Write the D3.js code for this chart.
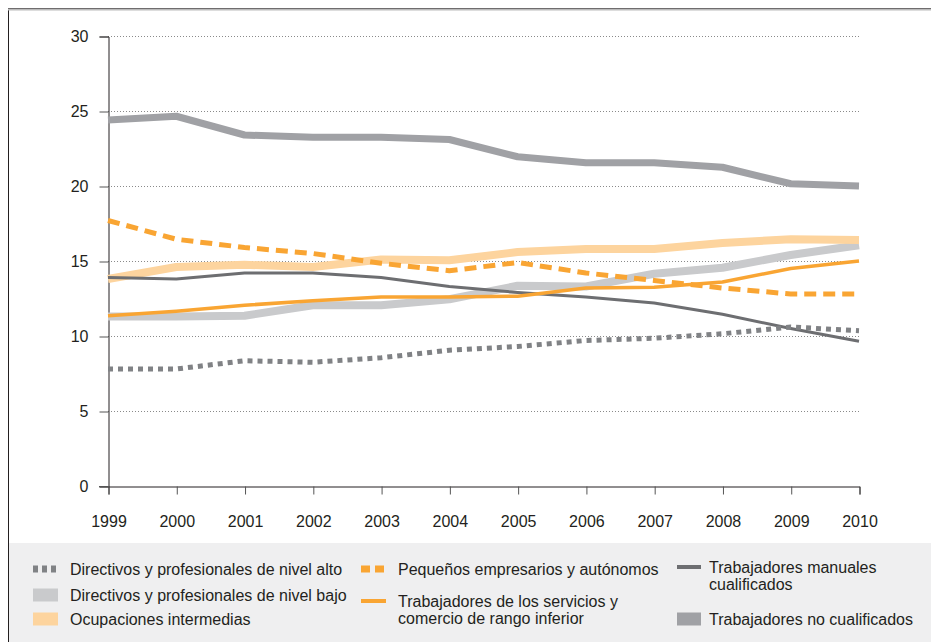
<!DOCTYPE html>
<html>
<head>
<meta charset="utf-8">
<script src="https://cdn.jsdelivr.net/npm/d3@7"></script>
<style>
  body { margin: 0; background: #fff; }
  svg text { font-family: "Liberation Sans", Arial, sans-serif; fill: #231f20; }
</style>
</head>
<body>
<div id="chart"></div>
<script>
// data
var years = [1999, 2000, 2001, 2002, 2003, 2004, 2005, 2006, 2007, 2008, 2009, 2010];
var yTicks = [0, 5, 10, 15, 20, 25, 30];

var dirAlto     = [7.8, 7.8, 8.35, 8.25, 8.55, 9.05, 9.3, 9.7, 9.85, 10.15, 10.6, 10.35];
var dirBajo     = [11.3, 11.3, 11.35, 12.05, 12.05, 12.45, 13.35, 13.3, 14.15, 14.55, 15.4, 16.05];
var intermedias = [13.8, 14.6, 14.75, 14.6, 15.1, 15.05, 15.6, 15.8, 15.8, 16.2, 16.45, 16.4];
var pequenos    = [17.7, 16.45, 15.9, 15.5, 14.85, 14.35, 14.9, 14.2, 13.7, 13.2, 12.8, 12.8];
var servicios   = [11.35, 11.65, 12.05, 12.35, 12.6, 12.6, 12.65, 13.2, 13.25, 13.6, 14.5, 15.0];
var manuales    = [13.9, 13.8, 14.2, 14.2, 13.9, 13.3, 12.9, 12.6, 12.2, 11.45, 10.5, 9.65];
var noCualif    = [24.4, 24.65, 23.4, 23.25, 23.25, 23.1, 21.95, 21.55, 21.55, 21.25, 20.15, 20.0];

var W = 931, H = 642;
var svg = d3.select('#chart').append('svg')
  .attr('width', W)
  .attr('height', H);

// outer frame + legend background
svg.append('rect')
  .attr('x', 8.5).attr('y', 8.5)
  .attr('width', W).attr('height', H)
  .attr('fill', '#fff')
  .attr('stroke', '#231f20')
  .attr('stroke-width', 1);
svg.append('line')
  .attr('x1', 8).attr('x2', W)
  .attr('y1', 9.5).attr('y2', 9.5)
  .attr('stroke', '#bbb').attr('stroke-width', 2);
svg.append('rect')
  .attr('x', 9).attr('y', 543)
  .attr('width', W).attr('height', H - 543)
  .attr('fill', '#efeff0');

var x = d3.scaleLinear().domain([1999, 2010]).range([108, 859]);
var y = d3.scaleLinear().domain([0, 30]).range([486, 36]);

// dotted gridlines
svg.append('g').selectAll('line')
  .data(yTicks.filter(function(d) { return d > 0; }))
  .enter().append('line')
  .attr('x1', 108).attr('x2', 859)
  .attr('y1', function(d) { return y(d) + 0.5; })
  .attr('y2', function(d) { return y(d) + 0.5; })
  .attr('stroke', '#8a8a8a')
  .attr('stroke-width', 1)
  .attr('stroke-dasharray', '1,2');

// axes
var yAxis = svg.append('g')
  .attr('transform', 'translate(108.5,0.5)')
  .call(d3.axisLeft(y).tickValues(yTicks).tickSize(9).tickPadding(11));
var xAxis = svg.append('g')
  .attr('transform', 'translate(0.5,486.5)')
  .call(d3.axisBottom(x).tickValues(years).tickFormat(d3.format('d')).tickSize(8).tickPadding(21));
[yAxis, xAxis].forEach(function(g) {
  g.select('.domain').attr('stroke', '#231f20');
  g.selectAll('.tick line').attr('stroke', '#555');
  g.selectAll('.tick text').attr('font-size', 16).attr('fill', '#231f20');
});
svg.append('line')
  .attr('x1', 99).attr('x2', 108)
  .attr('y1', 486.5).attr('y2', 486.5)
  .attr('stroke', '#555');

var series = [
  { name: ['Directivos y profesionales de nivel bajo'], values: dirBajo, color: '#c9cacc', width: 8, dash: null, col: 0, row: 1 },
  { name: ['Ocupaciones intermedias'], values: intermedias, color: '#fdd49e', width: 8, dash: null, col: 0, row: 2 },
  { name: ['Trabajadores no cualificados'], values: noCualif, color: '#a0a1a5', width: 7, dash: null, col: 2, row: 2 },
  { name: ['Trabajadores manuales', 'cualificados'], values: manuales, color: '#6d6e71', width: 3, dash: null, col: 2, row: 0 },
  { name: ['Trabajadores de los servicios y', 'comercio de rango inferior'], values: servicios, color: '#f9a533', width: 3.5, dash: null, col: 1, row: 1.3 },
  { name: ['Pequeños empresarios y autónomos'], values: pequenos, color: '#f9a533', width: 5, dash: '12,7', col: 1, row: 0 },
  { name: ['Directivos y profesionales de nivel alto'], values: dirAlto, color: '#808285', width: 5, dash: '5,5', col: 0, row: 0 }
];

var line = d3.line()
  .x(function(d, i) { return x(years[i]); })
  .y(function(d) { return y(d); });

svg.append('g').selectAll('path')
  .data(series)
  .enter().append('path')
  .attr('d', function(d) { return line(d.values); })
  .attr('fill', 'none')
  .attr('stroke', function(d) { return d.color; })
  .attr('stroke-width', function(d) { return d.width; })
  .attr('stroke-dasharray', function(d) { return d.dash; })
  .attr('stroke-linejoin', 'round');

// legend
var colX = [33, 361, 677], rowY = [569, 595, 619];
var leg = svg.append('g').selectAll('g')
  .data(series)
  .enter().append('g')
  .attr('transform', function(d) {
    var r = d.row === 1.3 ? 603 : rowY[d.row];
    return 'translate(' + colX[d.col] + ',' + r + ')';
  });

leg.append('line')
  .attr('x1', 0).attr('x2', function(d) { return d.col === 2 ? 24 : 25; })
  .attr('y1', function(d) { return d.name.length > 1 ? -2 : 0; })
  .attr('y2', function(d) { return d.name.length > 1 ? -2 : 0; })
  .attr('stroke', function(d) { return d.color; })
  .attr('stroke-width', function(d) { return d.width >= 7 ? 13 : (d.dash ? 7 : 4); })
  .attr('stroke-dasharray', function(d) { return d.dash ? (d.dash === '5,5' ? '5,4' : '9,5') : null; });

leg.append('text')
  .attr('x', function(d) { return d.col === 2 ? 32 : 37; })
  .attr('y', function(d) { return d.name.length > 1 ? -2 : 0; })
  .attr('font-size', 16)
  .selectAll('tspan')
  .data(function(d) { return d.name; })
  .enter().append('tspan')
  .attr('x', function() { return d3.select(this.parentNode).attr('x'); })
  .attr('dy', function(d, i) { return i === 0 ? '0.35em' : '17'; })
  .text(function(d) { return d; });
</script>
</body>
</html>
